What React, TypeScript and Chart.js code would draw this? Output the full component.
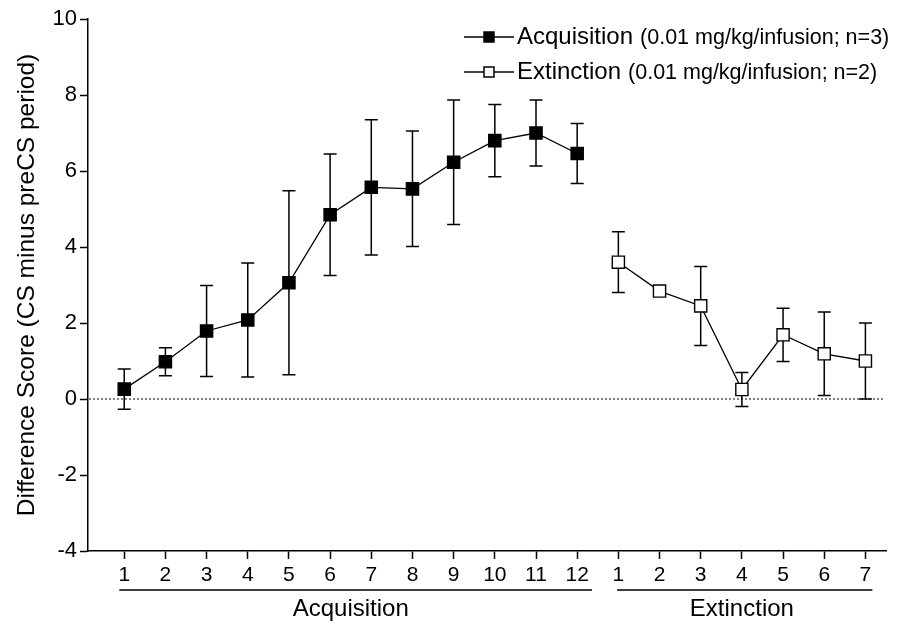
import React, { useEffect, useRef } from "react";
import { Chart, registerables } from "chart.js";

Chart.register(...registerables);

// ---- Data ----
const acqSessions = [1, 2, 3, 4, 5, 6, 7, 8, 9, 10, 11, 12];
const extSessions = [1, 2, 3, 4, 5, 6, 7];
const acqMean = [0.26, 0.98, 1.79, 2.08, 3.06, 4.85, 5.57, 5.53, 6.23, 6.8, 7.0, 6.46];
const acqErr = [0.53, 0.37, 1.2, 1.5, 2.42, 1.6, 1.78, 1.52, 1.64, 0.95, 0.87, 0.79];
const extMean = [3.6, 2.84, 2.45, 0.25, 1.69, 1.19, 1.0];
const extErr = [0.8, 0, 1.04, 0.45, 0.7, 1.1, 1.0];
const yTicks = [-4, -2, 0, 2, 4, 6, 8, 10];
const seriesNames = ["Acquisition", "Extinction"];
const seriesNotes = ["(0.01 mg/kg/infusion; n=3)", "(0.01 mg/kg/infusion; n=2)"];
const phaseLabels = ["Acquisition", "Extinction"];
const yTitle = "Difference Score (CS minus preCS period)";

// positions along x (continuous sessions)
const acqPos = acqSessions.map((_, i) => i + 1);
const extPos = extSessions.map((_, i) => acqSessions.length + i + 1);
const allPos = [...acqPos, ...extPos];
const allTickLabels = [...acqSessions, ...extSessions].map(String);

const FONT = "'Liberation Sans', Arial, Helvetica, sans-serif";

const errorBarPlugin = {
  id: "errorBars",
  beforeDatasetsDraw(chart: any) {
    const { ctx } = chart;
    const y = chart.scales.y;
    chart.data.datasets.forEach((ds: any, di: number) => {
      const meta = chart.getDatasetMeta(di);
      const errs = ds.errors || [];
      ctx.save();
      ctx.strokeStyle = "#000";
      ctx.lineWidth = 1.5;
      meta.data.forEach((pt: any, i: number) => {
        const e = errs[i];
        if (!e) return;
        const v = ds.data[i].y;
        const top = y.getPixelForValue(v + e);
        const bot = y.getPixelForValue(v - e);
        const cx = pt.x;
        const hw = 6.5;
        ctx.beginPath();
        ctx.moveTo(cx, top);
        ctx.lineTo(cx, bot);
        ctx.moveTo(cx - hw, top);
        ctx.lineTo(cx + hw, top);
        ctx.moveTo(cx - hw, bot);
        ctx.lineTo(cx + hw, bot);
        ctx.stroke();
      });
      ctx.restore();
    });
  },
};

const zeroLinePlugin = {
  id: "zeroLine",
  beforeDatasetsDraw(chart: any) {
    const { ctx, chartArea } = chart;
    const yp = chart.scales.y.getPixelForValue(0);
    ctx.save();
    ctx.strokeStyle = "#333";
    ctx.lineWidth = 1.2;
    ctx.setLineDash([2, 2]);
    ctx.beginPath();
    ctx.moveTo(chartArea.left + 1, yp);
    ctx.lineTo(chartArea.right - 2, yp);
    ctx.stroke();
    ctx.restore();
  },
};

const phasePlugin = {
  id: "phases",
  afterDraw(chart: any) {
    const { ctx } = chart;
    const x = chart.scales.x;
    const groups = [
      { pos: acqPos, label: phaseLabels[0], l: 0.12, r: 0.36 },
      { pos: extPos, label: phaseLabels[1], l: 0.03, r: 0.17 },
    ];
    ctx.save();
    ctx.strokeStyle = "#000";
    ctx.fillStyle = "#000";
    ctx.lineWidth = 1.5;
    ctx.font = `24px ${FONT}`;
    ctx.textAlign = "center";
    ctx.textBaseline = "alphabetic";
    groups.forEach((g) => {
      const first = g.pos[0];
      const last = g.pos[g.pos.length - 1];
      const x1 = x.getPixelForValue(first - g.l);
      const x2 = x.getPixelForValue(last + g.r);
      ctx.beginPath();
      ctx.moveTo(x1, 590);
      ctx.lineTo(x2, 590);
      ctx.stroke();
      ctx.fillText(g.label, x.getPixelForValue((first + last) / 2), 616);
    });
    ctx.restore();
  },
};

const legendPlugin = {
  id: "customLegend",
  afterDraw(chart: any) {
    const { ctx } = chart;
    const rows = [37, 72];
    ctx.save();
    seriesNames.forEach((name, i) => {
      const yy = rows[i];
      ctx.strokeStyle = "#000";
      ctx.lineWidth = 1.5;
      ctx.beginPath();
      ctx.moveTo(464, yy);
      ctx.lineTo(514, yy);
      ctx.stroke();
      const s = 10;
      ctx.fillStyle = i === 0 ? "#000" : "#fff";
      ctx.fillRect(489 - s / 2, yy - s / 2, s, s);
      ctx.strokeRect(489 - s / 2, yy - s / 2, s, s);
      ctx.fillStyle = "#000";
      ctx.textAlign = "left";
      ctx.textBaseline = "middle";
      ctx.font = `24px ${FONT}`;
      ctx.fillText(name, 517, yy);
      const w = ctx.measureText(name).width;
      ctx.font = `21.5px ${FONT}`;
      ctx.fillText(seriesNotes[i], 517 + w + 7, yy + 1);
    });
    ctx.restore();
  },
};

export default function App() {
  const ref = useRef<HTMLCanvasElement | null>(null);

  useEffect(() => {
    document.body.style.margin = "0";
    const canvas = ref.current;
    if (!canvas) return;
    const chart = new Chart(canvas, {
      type: "line",
      data: {
        datasets: [
          {
            label: seriesNames[0],
            data: acqPos.map((p, i) => ({ x: p, y: acqMean[i] })),
            errors: acqErr,
            borderColor: "#000",
            borderWidth: 1.3,
            pointStyle: "rect",
            pointRadius: 8.6,
            pointBorderWidth: 1.4,
            pointBackgroundColor: "#000",
            pointBorderColor: "#000",
            tension: 0,
          } as any,
          {
            label: seriesNames[1],
            data: extPos.map((p, i) => ({ x: p, y: extMean[i] })),
            errors: extErr,
            borderColor: "#000",
            borderWidth: 1.3,
            pointStyle: "rect",
            pointRadius: 8.6,
            pointBorderWidth: 1.4,
            pointBackgroundColor: "#fff",
            pointBorderColor: "#000",
            tension: 0,
          } as any,
        ],
      },
      options: {
        animation: false,
        responsive: false,
        events: [],
        layout: { padding: { top: 19, right: 12, left: 0, bottom: 0 } },
        plugins: {
          legend: { display: false },
          tooltip: { enabled: false },
        },
        scales: {
          x: {
            type: "linear",
            min: 0.12,
            max: 19.5,
            afterBuildTicks: (s: any) => {
              s.ticks = allPos.map((v) => ({ value: v }));
            },
            afterFit: (s: any) => {
              s.height = 74;
            },
            grid: {
              drawOnChartArea: false,
              drawTicks: true,
              tickLength: 8,
              tickColor: "#000",
              tickWidth: 1.5,
            },
            border: { color: "#000", width: 1.5 },
            ticks: {
              color: "#000",
              font: { family: FONT, size: 21 },
              padding: 4,
              maxRotation: 0,
              autoSkip: false,
              callback: (v: any) => {
                const idx = allPos.indexOf(Number(v));
                return idx >= 0 ? allTickLabels[idx] : "";
              },
            },
          },
          y: {
            min: -4,
            max: 10,
            afterBuildTicks: (s: any) => {
              s.ticks = yTicks.map((v) => ({ value: v }));
            },
            afterFit: (s: any) => {
              s.width = 88;
            },
            grid: {
              drawOnChartArea: false,
              drawTicks: true,
              tickLength: 8,
              tickColor: "#000",
              tickWidth: 1.5,
            },
            border: { color: "#000", width: 1.5 },
            ticks: {
              color: "#000",
              font: { family: FONT, size: 22 },
              padding: 3,
            },
            title: {
              display: true,
              text: yTitle,
              color: "#000",
              font: { family: FONT, size: 24.5 },
              padding: { top: 13, bottom: 0 },
            },
          },
        },
      } as any,
      plugins: [zeroLinePlugin, errorBarPlugin, phasePlugin, legendPlugin],
    });
    return () => chart.destroy();
  }, []);

  return <canvas ref={ref} width={898} height={625} style={{ display: "block" }} />;
}
